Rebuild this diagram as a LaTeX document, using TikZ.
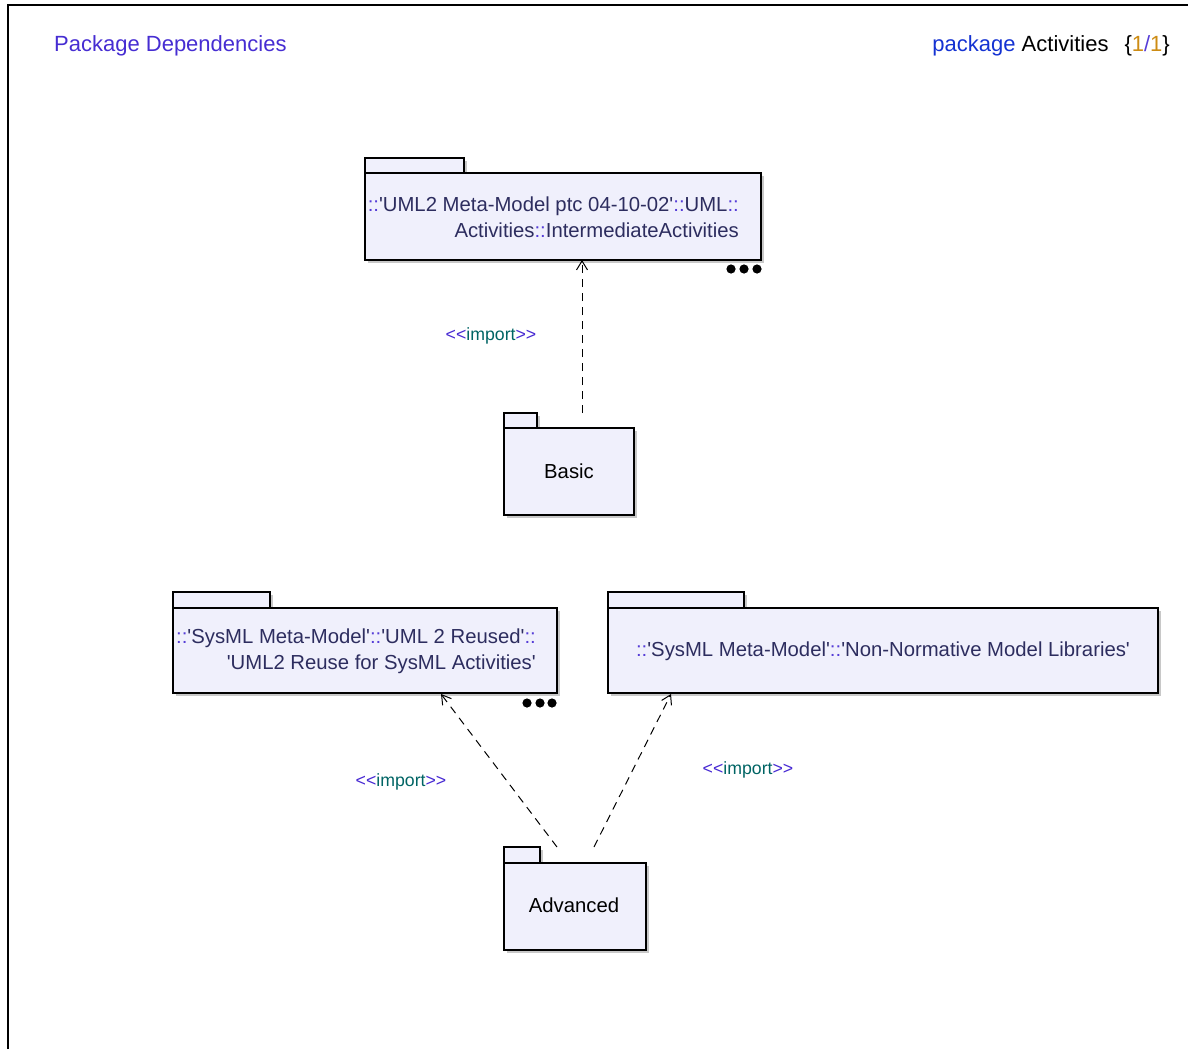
\documentclass[tikz,border=0pt]{standalone}
\usepackage{fontspec}
\newfontfamily\arialish{Liberation Sans}
\usetikzlibrary{arrows.meta,calc}

\definecolor{hdrblue}{RGB}{70,45,210}
\definecolor{kwblue}{RGB}{20,50,210}
\definecolor{numorange}{RGB}{205,140,20}
\definecolor{sepblue}{RGB}{85,60,215}
\definecolor{pkgtext}{RGB}{45,45,95}
\definecolor{pkgfill}{RGB}{240,240,252}
\definecolor{pkgshadow}{RGB}{200,200,200}
\definecolor{stereoblue}{RGB}{70,40,210}
\definecolor{stereoteal}{RGB}{0,100,100}

\newcommand\sepc[1]{\textcolor{sepblue}{#1}}
\newcommand\stereo[1]{\textcolor{stereoblue}{<<}\textcolor{stereoteal}{#1}\textcolor{stereoblue}{>>}}

% package outline: tab + body around the named frame node
\newcommand\drawpkg[3]{%
  \fill[pkgshadow] ([shift={(3,3)}]#1.north west) rectangle ++(#2,#3);
  \fill[pkgshadow] ([shift={(3,#3+3)}]#1.north west) rectangle ([shift={(3,3)}]#1.south east);
  \draw[pkgline] (#1.north west) rectangle ++(#2,#3);
  \draw[pkgline] ([yshift=-#3pt]#1.north west) rectangle (#1.south east);
}

\tikzset{
  pkgframe/.style={draw=none, inner sep=0, outer sep=0},
  pkgline/.style={draw=black, fill=pkgfill, line width=1.3pt},
  pkgname/.style={font=\arialish\fontsize{20.3}{26}\selectfont, text=pkgtext, inner sep=0},
  pkgplain/.style={font=\arialish\fontsize{20.3}{26}\selectfont, text=black, inner sep=0},
  hdr/.style={font=\arialish\fontsize{22}{26}\selectfont, inner sep=0},
  stereolabel/.style={font=\arialish\fontsize{17.7}{20}\selectfont, inner sep=0},
  dep/.style={draw=black, line width=1pt, dash pattern=on 8pt off 6pt,
              -{Straight Barb[length=9pt,width=11pt,line width=1pt]}},
  dot/.style={fill=black}
}

\begin{document}
\begin{tikzpicture}[x=1pt,y=-1pt]
\useasboundingbox (0,0) rectangle (1188,1049);

% diagram frame
\draw[line width=2pt] (8,1049) -- (8,5) -- (1188,5);

% header
\node[hdr, anchor=base west, text=hdrblue] (title) at (54,52) {Package Dependencies};
\node[hdr, anchor=base east, text=black] (kind) at (1170,52)
  {\textcolor{kwblue}{package} Activities\hspace{16pt}\{\textcolor{numorange}{1}\textcolor{sepblue}{/}\textcolor{numorange}{1}\}};

% package frames (tab + body extent)
\node[pkgframe, minimum width=396pt, minimum height=102pt] (inter)   at (563,209) {};
\node[pkgframe, minimum width=130pt, minimum height=102pt] (basic)   at (569,464) {};
\node[pkgframe, minimum width=384pt, minimum height=101pt] (reuse)   at (365,642.5) {};
\node[pkgframe, minimum width=550pt, minimum height=101pt] (nonnorm) at (883,642.5) {};
\node[pkgframe, minimum width=142pt, minimum height=103pt] (adv)     at (575,898.5) {};

\drawpkg{inter}{99}{15}
\drawpkg{basic}{33}{15}
\drawpkg{reuse}{97}{16}
\drawpkg{nonnorm}{136}{16}
\drawpkg{adv}{36}{16}

% package names
\node[pkgname, anchor=east, align=right] (inter-name) at (739,217.5)
  {\sepc{::}'UML2 Meta-Model ptc 04-10-02'\sepc{::}UML\sepc{::}\\Activities\sepc{::}IntermediateActivities};
\node[pkgplain] (basic-name) at (569,471.5) {Basic};
\node[pkgname, anchor=east, align=right] (reuse-name) at (536,651.5)
  {\sepc{::}'SysML Meta-Model'\sepc{::}'UML 2 Reused'\sepc{::}\\'UML2 Reuse for SysML Activities'};
\node[pkgname] (nonnorm-name) at (883,651.5)
  {\sepc{::}'SysML Meta-Model'\sepc{::}'Non-Normative Model Libraries'};
\node[pkgplain] (adv-name) at (574,905.5) {Advanced};

% "more contents" markers
\foreach \dx in {-30,-17,-4}
  \fill[dot] ([shift={(\dx,9)}]inter.south east) circle (4.6pt);
\foreach \dx in {-30,-17,-5}
  \fill[dot] ([shift={(\dx,10)}]reuse.south east) circle (4.6pt);

% import dependencies
\coordinate (basic-out) at ($(basic.north)+(13,0)$);
\draw[dep] (basic-out) -- (basic-out |- inter.south);
\draw[dep] ($(adv.north)+(-18,0)$) -- ($(reuse.south)+(76,1)$);
\draw[dep] ($(adv.north)+(19,0)$) -- ($(nonnorm.south)+(-212,1)$);

\node[stereolabel] (imp1) at (491,336) {\stereo{import}};
\node[stereolabel] (imp2) at (401,782) {\stereo{import}};
\node[stereolabel] (imp3) at (748,770) {\stereo{import}};
\end{tikzpicture}
\end{document}
